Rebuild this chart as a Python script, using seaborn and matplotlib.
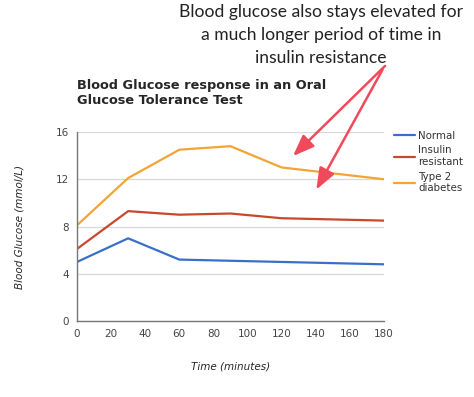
import matplotlib.pyplot as plt
import matplotlib.patches as mpatches
import seaborn as sns
import pandas as pd

# data
time_min = [0, 30, 60, 90, 120, 180]
normal = [5.0, 7.0, 5.2, 5.1, 5.0, 4.8]
insulin_resistant = [6.1, 9.3, 9.0, 9.1, 8.7, 8.5]
type2_diabetes = [8.1, 12.1, 14.5, 14.8, 13.0, 12.0]
series_names = ['Normal', 'Insulin\nresistant', 'Type 2\ndiabetes']
colors = ['#3a6fc9', '#c8482c', '#f2a435']

df = pd.DataFrame({
    'time': time_min * 3,
    'glucose': normal + insulin_resistant + type2_diabetes,
    'group': [series_names[0]] * 6 + [series_names[1]] * 6 + [series_names[2]] * 6,
})

sns.set_style('white')
plt.rcParams['font.family'] = ['DejaVu Sans']

fig = plt.figure(figsize=(4.74, 3.97), dpi=100)
ax = fig.add_axes([0.1624, 0.1914, 0.6476, 0.4761])

sns.lineplot(data=df, x='time', y='glucose', hue='group', palette=colors,
             linewidth=1.6, ax=ax, legend=True)

ax.set_xlim(0, 180)
ax.set_ylim(0, 16)
ax.set_xticks(range(0, 181, 20))
ax.set_yticks([0, 4, 8, 12, 16])
ax.tick_params(axis='both', length=0, labelsize=7.5, colors='#444444', pad=6)
ax.grid(axis='y', color='#d8d8d8', linewidth=0.9)
ax.set_axisbelow(True)
for s in ['top', 'right']:
    ax.spines[s].set_visible(False)
for s in ['left', 'bottom']:
    ax.spines[s].set_color('#777777')
    ax.spines[s].set_linewidth(1.0)

ax.set_xlabel('Time (minutes)', fontsize=7.5, style='italic', labelpad=16)
ax.set_ylabel('Blood Glucose (mmol/L)', fontsize=7.5, style='italic', labelpad=22)

leg = ax.legend(loc='upper left', bbox_to_anchor=(1.01, 1.045), frameon=False,
                fontsize=7.4, handlelength=2.0, handletextpad=0.35, labelspacing=0.45,
                borderaxespad=0.3)
for t in leg.get_texts():
    t.set_color('#333333')

fig.text(77 / 474, 1 - 93 / 397, 'Blood Glucose response in an Oral\nGlucose Tolerance Test',
         fontsize=9.3, fontweight='bold', ha='left', va='center', linespacing=1.3)

fig.text(321 / 474, 1 - 35 / 397,
         'Blood glucose also stays elevated for\na much longer period of time in\ninsulin resistance',
         fontsize=12.6, family=['Lato'], ha='center', va='center', linespacing=1.55, color='#222222')

# red arrows pointing at the chart
arrow_kw = dict(arrowstyle='-|>,head_length=1.3,head_width=0.5', color='#f04a5a', lw=1.8)
fig.patches.append(mpatches.FancyArrowPatch(
    (387 / 474, 1 - 64 / 397), (291 / 474, 1 - 158 / 397),
    transform=fig.transFigure, mutation_scale=10, **arrow_kw))
fig.patches.append(mpatches.FancyArrowPatch(
    (384 / 474, 1 - 67 / 397), (315 / 474, 1 - 192 / 397),
    transform=fig.transFigure, mutation_scale=10, **arrow_kw))

fig.savefig('out.png', dpi=100)
